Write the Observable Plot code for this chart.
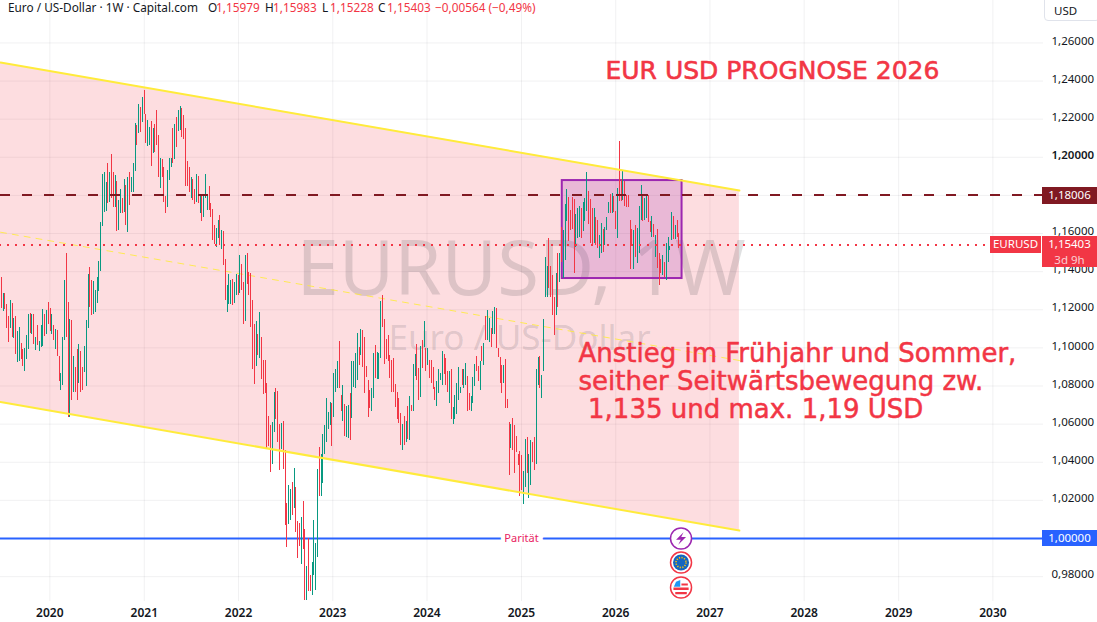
<!DOCTYPE html>
<html>
<head>
<meta charset="utf-8">
<script src="https://cdn.jsdelivr.net/npm/d3@7"></script>
<script src="https://cdn.jsdelivr.net/npm/@observablehq/plot@0.6"></script>
<style>
html,body{margin:0;padding:0;background:#fff;}
#wrap{position:relative;width:1097px;height:622px;overflow:hidden;font-family:"Noto Sans",sans-serif;}
#wrap svg{display:block;}
.badge{position:absolute;color:#fff;font-size:11.5px;line-height:16px;text-align:center;box-sizing:border-box;}
#usd{position:absolute;left:1044px;top:-4px;width:56px;height:25px;border:1px solid #e0e3eb;border-radius:4px;font-size:11.5px;line-height:25px;padding-left:9px;box-sizing:border-box;color:#131722;background:#fff;padding-top:1px;}
</style>
</head>
<body>
<div id="wrap"></div>
<script>
const highs = [
1.1371,1.1287,1.1284,1.1228,1.1165,1.1249,1.1235,1.1154,1.1165,1.1086,1.1107,1.1023,1.0992,1.0999,1.1065,1.1177,1.1179,1.1175,1.1175,1.1056,
1.1118,1.1034,1.1118,1.1201,1.1175,1.1196,1.1238,1.1207,1.1175,1.1118,1.1097,1.1091,1.0955,1.0866,1.1055,1.1354,1.1495,1.1238,1.1149,1.1144,
1.0955,1.0897,1.0992,1.1018,1.0981,1.0897,1.1007,1.1144,1.1385,1.1422,1.1354,1.1348,1.1301,1.1369,1.1453,1.1658,1.1910,1.1921,1.1868,1.1968,
1.1921,1.2015,1.1921,1.1905,1.1873,1.1774,1.1831,1.1782,1.1884,1.1852,1.1894,1.1921,1.1894,1.1968,1.2178,1.2167,1.2277,1.2262,1.2314,1.2351,
1.2225,1.2193,1.2158,1.2188,1.2151,1.2172,1.2246,1.2115,1.1994,1.1989,1.1947,1.1795,1.1931,1.1994,1.1994,1.2151,1.2172,1.2209,1.2246,1.2267,
1.2256,1.2220,1.2151,1.1978,1.1947,1.1894,1.1884,1.1831,1.1910,1.1900,1.1805,1.1800,1.1800,1.1910,1.1805,1.1847,1.1757,1.1726,1.1642,1.1626,
1.1668,1.1694,1.1616,1.1610,1.1464,1.1327,1.1385,1.1353,1.1359,1.1343,1.1385,1.1380,1.1484,1.1437,1.1343,1.1484,1.1495,1.1395,1.1390,1.1248,
1.1122,1.1138,1.1070,1.1185,1.1054,1.0934,1.0934,1.0813,1.0640,1.0593,1.0608,1.0766,1.0787,1.0771,1.0598,1.0603,1.0614,1.0461,1.0183,1.0278,
1.0257,1.0294,1.0367,1.0267,1.0089,1.0078,1.0110,1.0194,1.0047,0.9853,1.0000,0.9806,0.9874,1.0094,0.9974,1.0362,1.0477,1.0442,1.0545,1.0593,
1.0734,1.0661,1.0713,1.0708,1.0865,1.0886,1.0928,1.1033,1.0750,1.0803,1.0703,1.0692,1.0698,1.0761,1.0928,1.0928,1.0970,1.1075,1.1002,1.1096,
1.1091,1.1054,1.0902,1.0829,1.0776,1.0787,1.0970,1.1012,1.0976,1.0970,1.1243,1.1275,1.1149,1.1044,1.1065,1.0960,1.0934,1.0944,1.0808,1.0766,
1.0734,1.0656,1.0598,1.0640,1.0614,1.0692,1.0745,1.0698,1.0913,1.0965,1.1018,1.0892,1.1007,1.1039,1.1138,1.0997,1.0997,1.0934,1.0934,1.0897,
1.0792,1.0824,1.0887,1.0866,1.0981,1.0966,1.0945,1.0876,1.0876,1.0887,1.0688,1.0751,1.0814,1.0897,1.0793,1.0887,1.0887,1.0918,1.0850,1.0761,
1.0745,1.0845,1.0913,1.0955,1.0903,1.0929,1.1008,1.1023,1.1165,1.1197,1.1155,1.1102,1.1191,1.1212,1.1207,1.0997,1.0950,1.0908,1.0908,1.0939,
1.0730,1.0609,1.0598,1.0630,1.0593,1.0535,1.0441,1.0457,1.0436,1.0352,1.0520,1.0530,1.0441,1.0514,1.0504,1.0530,1.0887,1.0950,1.0955,1.0855,
1.1149,1.1475,1.1427,1.1574,1.1427,1.1380,1.1267,1.1389,1.1494,1.1494,1.1634,1.1616,1.1753,1.1830,1.1788,1.1721,1.1788,1.1779,1.1700,1.1730,
1.1742,1.1730,1.1761,1.1782,1.1919,1.1821,1.1779,1.1730,1.1730,1.1686,1.1669,1.1590,1.1655,1.1622,1.1634,1.1683,1.1763,1.1804,1.1810,1.1796,
1.1714,1.1835,1.2083,1.1882,1.1931,1.1875,1.1800,1.1800,1.1669,1.1622,1.1616,1.1643,1.1625,1.1742,1.1851,1.1805,1.1782,1.1795,1.1800,1.1665,
1.1690,1.1646,1.1590,1.1622,1.1494,1.1464,1.1485,1.1450,1.1546,1.1578,1.1534,1.1709,1.1690,1.1643,1.1669,1.15983];
const lows = [
1.1205,1.1191,1.1200,1.1102,1.1028,1.1100,1.1055,1.1049,1.0965,1.0923,1.0929,1.0939,1.0902,1.0876,1.0939,1.0992,1.1074,1.1070,1.1018,1.0986,
1.1013,1.0981,1.1004,1.1007,1.1060,1.1070,1.1123,1.1086,1.1070,1.1039,1.0992,1.0955,1.0824,1.0777,1.0803,1.1039,1.1055,1.0637,1.0637,1.0724,
1.0766,1.0766,1.0724,1.0812,1.0766,1.0777,1.0871,1.0798,1.1102,1.1212,1.1170,1.1175,1.1186,1.1233,1.1296,1.1400,1.1637,1.1711,1.1716,1.1758,
1.1763,1.1782,1.1737,1.1737,1.1611,1.1616,1.1705,1.1705,1.1711,1.1642,1.1606,1.1747,1.1816,1.1816,1.1926,1.2062,1.2125,1.2130,1.2185,1.2225,
1.2073,1.2057,1.2062,1.1952,1.2020,1.2025,1.2062,1.1894,1.1837,1.1894,1.1763,1.1705,1.1737,1.1879,1.1947,1.1968,1.1989,1.2052,1.2136,1.2141,
1.2104,1.2094,1.1847,1.1847,1.1816,1.1784,1.1774,1.1753,1.1763,1.1758,1.1705,1.1663,1.1684,1.1784,1.1721,1.1721,1.1684,1.1563,1.1542,1.1526,
1.1574,1.1537,1.1516,1.1432,1.1248,1.1185,1.1227,1.1227,1.1222,1.1233,1.1275,1.1275,1.1285,1.1301,1.1122,1.1138,1.1332,1.1275,1.1107,1.0886,
1.0808,1.0902,1.0960,1.0944,1.0834,1.0755,1.0760,1.0472,1.0482,1.0346,1.0388,1.0556,1.0624,1.0503,1.0356,1.0467,1.0362,1.0068,0.9953,1.0073,
1.0094,1.0120,1.0157,1.0031,0.9895,0.9958,0.9863,0.9942,0.9675,0.9675,0.9722,0.9722,0.9701,0.9806,0.9727,0.9900,1.0220,1.0220,1.0288,1.0440,
1.0504,1.0572,1.0593,1.0483,1.0635,1.0766,1.0787,1.0787,1.0666,1.0614,1.0535,1.0530,1.0525,1.0514,1.0629,1.0792,1.0787,1.0829,1.0907,1.0960,
1.0897,1.0761,1.0845,1.0635,1.0682,1.0666,1.0734,1.0839,1.0834,1.0834,1.0944,1.1107,1.0913,1.0939,1.0928,1.0839,1.0766,1.0766,1.0687,1.0624,
1.0603,1.0488,1.0462,1.0488,1.0504,1.0519,1.0514,1.0666,1.0666,1.0850,1.0829,1.0724,1.0740,1.0892,1.1002,1.0876,1.0907,1.0839,1.0813,1.0782,
1.0724,1.0693,1.0761,1.0829,1.0803,1.0861,1.0803,1.0766,1.0709,1.0625,1.0598,1.0625,1.0651,1.0724,1.0761,1.0803,1.0787,1.0803,1.0667,1.0672,
1.0667,1.0709,1.0798,1.0876,1.0824,1.0777,1.0929,1.0908,1.1039,1.1039,1.1029,1.1002,1.1071,1.1071,1.0997,1.0950,1.0814,1.0761,1.0814,1.0682,
1.0682,1.0331,1.0471,1.0462,1.0341,1.0451,1.0383,1.0221,1.0252,1.0179,1.0268,1.0340,1.0210,1.0278,1.0399,1.0357,1.0389,1.0803,1.0787,1.0735,
1.0876,1.1267,1.1267,1.1310,1.1267,1.1170,1.1065,1.1170,1.1214,1.1345,1.1450,1.1363,1.1459,1.1665,1.1559,1.1616,1.1622,1.1392,1.1529,1.1576,
1.1581,1.1573,1.1613,1.1665,1.1716,1.1648,1.1546,1.1543,1.1546,1.1538,1.1520,1.1471,1.1497,1.1503,1.1538,1.1616,1.1704,1.1704,1.1707,1.1712,
1.1622,1.1576,1.1768,1.1770,1.1774,1.1744,1.1739,1.1739,1.1412,1.1538,1.1412,1.1476,1.1441,1.1494,1.1669,1.1664,1.1669,1.1679,1.1660,1.1608,
1.1581,1.1581,1.1476,1.1419,1.1328,1.1389,1.1380,1.1371,1.1354,1.1450,1.1511,1.1564,1.1567,1.1567,1.1581,1.15228];
const rising = [
0,1,0,0,0,1,0,1,0,1,1,0,0,1,1,1,0,1,0,1,
0,1,1,1,0,1,0,0,1,0,1,0,0,1,1,1,0,0,1,0,
1,0,0,1,0,0,1,1,1,0,0,1,1,1,1,1,1,1,1,0,
1,0,0,1,0,1,1,0,1,0,1,0,1,1,1,0,1,0,1,0,
0,1,1,0,1,0,0,0,1,0,0,0,1,1,1,0,1,0,1,1,
0,0,0,0,0,1,0,0,1,0,1,0,1,1,1,0,0,0,0,1,
1,0,1,0,0,1,1,1,0,1,1,0,1,0,0,1,0,0,0,0,
0,1,0,1,0,0,0,0,0,0,1,1,0,0,0,1,0,0,0,1,
1,0,1,0,0,0,1,0,0,1,0,0,1,1,1,1,0,1,1,1,
1,1,1,0,1,1,1,0,0,1,0,1,1,0,1,1,1,1,0,1,
0,0,0,0,0,1,1,0,1,1,1,0,0,0,0,0,0,0,0,0,
0,0,1,0,1,0,1,0,1,1,0,0,1,0,1,0,1,0,0,0,
0,1,1,1,1,0,0,0,1,0,1,1,1,1,1,0,1,1,0,0,
1,1,1,0,0,1,0,1,0,1,1,0,1,1,0,0,0,0,1,0,
0,0,1,0,0,0,0,0,0,1,1,0,1,1,0,0,1,1,0,1,
1,1,1,0,0,0,0,1,0,1,0,1,1,1,0,0,0,0,1,1,
1,0,1,1,1,0,0,0,1,0,0,1,1,0,1,1,1,0,1,0,
0,1,0,0,1,0,0,0,0,0,1,0,1,1,1,0,1,1,0,0,
1,0,1,0,0,0,1,0,1,1,1,1,0,1,0,0];

const firstWeek = "2019-06-27";
const channelDates = ["2019-06-24", "2027-04-25"];
const channelUpper = [1.2497, 1.1826];
const channelMiddle = [1.1607, 1.0934];
const channelLower = [1.0716, 1.0042];
const boxDates = ["2025-06-08", "2026-09-15"];
const boxPrices = [1.1364, 1.1878];
const resistance = 1.18006;
const lastPrice = 1.15403;
const parity = 1.0;
const priceTicks = [0.98,1.00,1.02,1.04,1.06,1.08,1.10,1.12,1.14,1.16,1.18,1.20,1.22,1.24,1.26];
const labelledTicks = [0.98,1.02,1.04,1.06,1.08,1.10,1.12,1.14,1.16,1.22,1.24,1.26];
const strongTicks = [1.20];
const yearTicks = [2020,2021,2022,2023,2024,2025,2026,2027,2028,2029,2030];
const eventDate = "2026-09-11";
const eventPrices = [1.0, 0.9874, 0.9743];
const noteLines = ["Anstieg im Frühjahr und Sommer,", "seither Seitwärtsbewegung zw.", "  1,135 und max. 1,19 USD"];

const parse = s => new Date(s + "T00:00:00Z");
const yearDates = yearTicks.map(y => new Date(Date.UTC(y, 0, 1)));
const bars = highs.map((h, i) => ({
  date: new Date(+parse(firstWeek) + i * 7 * 864e5),
  high: h, low: lows[i], up: rising[i]
}));
const channel = channelDates.map((d, i) => ({
  date: parse(d), upper: channelUpper[i], middle: channelMiddle[i], lower: channelLower[i]
}));

const RED = "#f23645", GREEN = "#089981", INK = "#131722";
const FONT = '"Noto Sans", sans-serif';
const NOTE = '"DejaVu Sans", sans-serif';
const radius = s => Math.sqrt(s / Math.PI);
const bolt = {draw(c, s){const r = radius(s);
  c.moveTo(.25*r,-.62*r);c.lineTo(-.5*r,.12*r);c.lineTo(-.02*r,.12*r);c.lineTo(-.28*r,.62*r);c.lineTo(.5*r,-.14*r);c.lineTo(.02*r,-.14*r);c.closePath();}};
const stripes = {draw(c, s){const r = radius(s);
  c.rect(.05*r,-.5*r,.8*r,.25*r);
  c.rect(-.95*r,0,1.9*r,.3*r);
  c.rect(-.72*r,.55*r,1.44*r,.3*r);}};
const canton = {draw(c, s){const r = radius(s);
  c.moveTo(-.9*r,-.1*r);c.lineTo(-.62*r,-.72*r);c.lineTo(-.1*r,-.95*r);c.lineTo(-.1*r,-.1*r);c.closePath();}};
const ev = () => parse(eventDate);
const noteText = (i, dx, dy) => Plot.text(noteLines, {
  frameAnchor: "top-left", dx, dy, textAnchor: "start", lineAnchor: "middle",
  filter: (d, k) => k === i, fontSize: 26, fill: RED, stroke: RED, strokeWidth: 0.5, fontFamily: NOTE
});

const plot = Plot.plot({
  width: 1097, height: 622,
  marginLeft: 0, marginRight: 54, marginTop: 0, marginBottom: 21,
  style: {background: "#fff", fontFamily: FONT},
  x: {type: "utc", domain: [parse("2019-06-24"), parse("2030-07-16")], range: [0, 1043]},
  y: {domain: [0.96695, 1.28227], range: [601, 0]},
  marks: [
    Plot.ruleY(priceTicks, {stroke: "#2a2e39", strokeOpacity: 0.065, strokeWidth: 1}),
    Plot.ruleX(yearDates, {stroke: "#2a2e39", strokeOpacity: 0.065, strokeWidth: 1}),
    Plot.areaY(channel, {x: "date", y1: "lower", y2: "upper", fill: RED, fillOpacity: 0.17}),
    Plot.text(["EURUSD, 1W"], {frameAnchor: "top-left", dx: 296, dy: 270, textAnchor: "start", lineAnchor: "middle",
      fontSize: 76, fill: "#2a2e39", fillOpacity: 0.15, fontFamily: FONT}),
    Plot.text(["Euro / US-Dollar"], {frameAnchor: "top-left", dx: 388, dy: 338, textAnchor: "start", lineAnchor: "middle",
      fontSize: 35, fill: "#2a2e39", fillOpacity: 0.15, fontFamily: FONT}),
    Plot.line(channel, {x: "date", y: "middle", stroke: "#ffeb3b", strokeWidth: 1, strokeOpacity: 0.85, strokeDasharray: "6 6"}),
    Plot.ruleY([parity], {stroke: "#2962ff", strokeWidth: 2}),
    Plot.rect([0], {x1: () => parse(boxDates[0]), x2: () => parse(boxDates[1]), y1: () => boxPrices[0], y2: () => boxPrices[1],
      fill: "#9c27b0", fillOpacity: 0.2, stroke: "#9c27b0", strokeWidth: 2}),
    Plot.ruleX(bars, {x: "date", y1: "low", y2: "high", stroke: d => d.up ? GREEN : RED, strokeWidth: 1, shapeRendering: "crispEdges", clip: "frame"}),
    Plot.line(channel, {x: "date", y: "upper", stroke: "#ffeb3b", strokeWidth: 2}),
    Plot.line(channel, {x: "date", y: "lower", stroke: "#ffeb3b", strokeWidth: 2}),
    Plot.ruleY([resistance], {stroke: "#801922", strokeWidth: 2, strokeDasharray: "10 12", shapeRendering: "crispEdges"}),
    Plot.ruleY([lastPrice], {x2: parse("2029-12-20"), stroke: RED, strokeWidth: 2, strokeDasharray: "2 6", shapeRendering: "crispEdges"}),
    Plot.text(["Parität"], {x: () => parse("2025-01-01"), y: () => parity, fontSize: 11, fill: "#e91e63",
      stroke: "#fff", strokeWidth: 9, fontFamily: FONT}),
    Plot.dot([parity], {x: ev, y: d => d, r: 10.5, fill: "#fff", stroke: "#9c27b0", strokeWidth: 1.5}),
    Plot.dot([parity], {x: ev, y: d => d, r: 10, symbol: bolt, fill: "#9c27b0"}),
    Plot.dot(eventPrices.slice(1), {x: ev, y: d => d, r: 10.5, fill: "#fff", stroke: RED, strokeWidth: 1.5}),
    Plot.dot(eventPrices.slice(1, 2), {x: ev, y: d => d, r: 8, fill: "#1565c0"}),
    Plot.dot(eventPrices.slice(1, 2), {x: ev, y: d => d, r: 5, fill: "none", stroke: "#ffc107", strokeWidth: 1.6, strokeDasharray: "1.2 1.4"}),
    Plot.dot(eventPrices.slice(2), {x: ev, y: d => d, r: 8, symbol: stripes, fill: RED}),
    Plot.dot(eventPrices.slice(2), {x: ev, y: d => d, r: 8, symbol: canton, fill: "#2196f3"}),
    Plot.text(["EUR USD PROGNOSE 2026"], {frameAnchor: "top-left", dx: 605, dy: 70, textAnchor: "start", lineAnchor: "middle",
      fontSize: 25, fill: RED, stroke: RED, strokeWidth: 0.6, fontFamily: NOTE}),
    noteText(0, 578, 353),
    noteText(1, 578, 381),
    noteText(2, 571, 409),
    Plot.axisY(labelledTicks, {anchor: "right", tickSize: 0, tickPadding: 8, dy: -2, label: null, fontSize: 11.5, fill: INK,
      tickFormat: d => d.toFixed(5).replace(".", ",")}),
    Plot.axisY(strongTicks, {anchor: "right", tickSize: 0, tickPadding: 8, dy: -2, label: null, fontSize: 11.5, fontWeight: 600, fill: INK,
      tickFormat: d => d.toFixed(5).replace(".", ",")}),
    Plot.axisX(yearDates, {anchor: "bottom", tickSize: 0, tickPadding: 7, label: null, fontSize: 12, fontWeight: 600, fill: INK,
      tickFormat: d => String(d.getUTCFullYear())})
  ]
});

const wrap = document.getElementById("wrap");
wrap.appendChild(plot);

const headerParts = [
  ["Euro / US-Dollar · 1W · Capital.com", 8, INK],
  ["O", 208, INK], ["1,15979", 216, RED],
  ["H", 265, INK], ["1,15983", 273, RED],
  ["L", 322, INK], ["1,15228", 330, RED],
  ["C", 378, INK], ["1,15403", 387, RED],
  ["−0,00564 (−0,49%)", 435, RED]
];
const badges = [
  ["1,18006", 1042, 187, 55, 17, "#801922"],
  ["EURUSD", 990, 236, 51, 17, RED],
  ["1,15403<br><span style='opacity:.75'>3d 9h</span>", 1042, 236, 55, 31, RED],
  ["1,00000", 1042, 530, 55, 16, "#2962ff"]
];
const hdr = document.createElement("div");
hdr.style.cssText = "position:absolute;left:0;top:0;font-size:11.8px;line-height:14px;white-space:nowrap;";
for (const [t, x, c] of headerParts) {
  const s = document.createElement("span");
  s.textContent = t;
  s.style.cssText = `position:absolute;left:${x}px;color:${c};`;
  hdr.appendChild(s);
}
wrap.appendChild(hdr);
for (const [t, x, y, w, h, c] of badges) {
  const d = document.createElement("div");
  d.className = "badge";
  d.innerHTML = t;
  d.style.cssText = `left:${x}px;top:${y}px;width:${w}px;height:${h}px;background:${c};`;
  wrap.appendChild(d);
}
const usd = document.createElement("div");
usd.id = "usd";
usd.textContent = "USD";
wrap.appendChild(usd);
</script>
</body>
</html>
